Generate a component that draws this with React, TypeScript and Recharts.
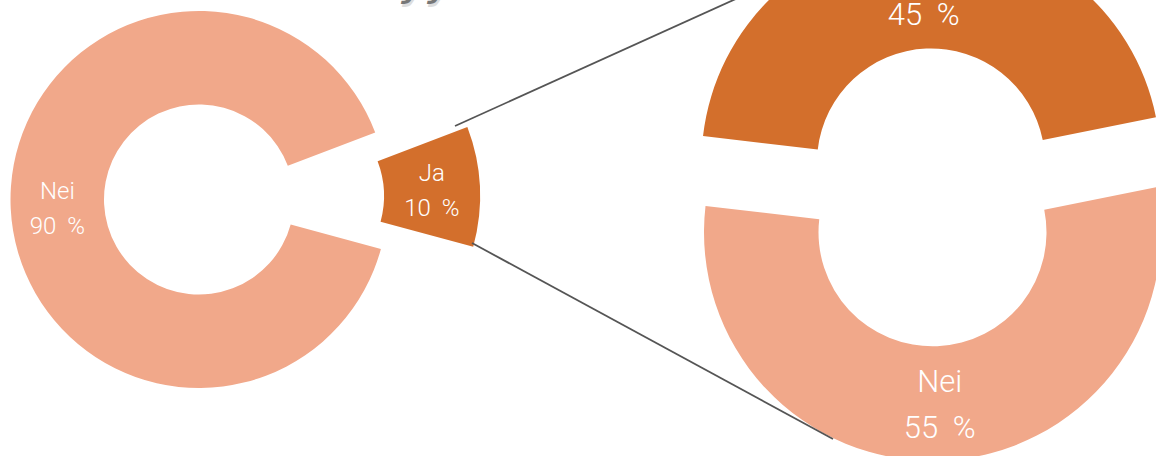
import React from 'react';
import { PieChart, Pie, Cell } from 'recharts';

// ---- data ----
const leftCategories = ['Nei', 'Ja'];
const leftValues = [90, 10];
const rightCategories = ['Ja', 'Nei'];
const rightValues = [45, 55];

const leftData = leftCategories.map((name, i) => ({ name, value: leftValues[i] }));
const rightData = rightCategories.map((name, i) => ({ name, value: rightValues[i] }));

const DARK = '#D36F2C';
const LIGHT = '#F1A88A';
const RAD = Math.PI / 180;
const FONT = 'Roboto, "DejaVu Sans", sans-serif';

const makeLabel = (showIndex: number, fontSize: number, gap: number, shiftY: number, wordSpacing: number) => (props: any) => {
  if (props.index !== showIndex) return <g />;
  const { cx, cy, midAngle, innerRadius, outerRadius } = props;
  const name = props.payload?.name ?? props.name;
  const value = props.payload?.value ?? props.value;
  const r = (innerRadius + outerRadius) / 2;
  const x = cx + r * Math.cos(-midAngle * RAD);
  const y = cy + r * Math.sin(-midAngle * RAD) + shiftY;
  const common = {
    textAnchor: 'middle' as const,
    dominantBaseline: 'central' as const,
    fill: '#fff',
    fontSize,
    fontFamily: FONT,
    fontWeight: 300,
  };
  return (
    <g>
      <text x={x} y={y - gap / 2} {...common}>
        {name}
      </text>
      <text x={x} y={y + gap / 2} {...common} wordSpacing={wordSpacing}>
        {`${value} %`}
      </text>
    </g>
  );
};

export default function App() {
  return (
    <div style={{ position: 'absolute', left: 0, top: 0, width: 1156, height: 456, background: '#fff' }}>
      <PieChart width={1156} height={456} margin={{ top: 0, right: 0, bottom: 0, left: 0 }}>
        {/* left donut: Nei */}
        <Pie
          data={leftData}
          dataKey="value"
          nameKey="name"
          cx={199}
          cy={199.5}
          innerRadius={95}
          outerRadius={188.5}
          startAngle={20.8}
          endAngle={380.8}
          stroke="none"
          isAnimationActive={false}
          labelLine={false}
          label={makeLabel(0, 24, 34.5, 2, 5)}
        >
          <Cell fill={LIGHT} />
          <Cell fill="transparent" />
        </Pie>
        {/* left donut: exploded Ja */}
        <Pie
          data={leftData}
          dataKey="value"
          nameKey="name"
          cx={286}
          cy={196}
          innerRadius={98}
          outerRadius={194}
          startAngle={20.8}
          endAngle={380.8}
          stroke="none"
          isAnimationActive={false}
          labelLine={false}
          label={makeLabel(1, 24, 35, 1.5, 5)}
        >
          <Cell fill="transparent" />
          <Cell fill={DARK} />
        </Pie>
        {/* right donut: Ja (top) */}
        <Pie
          data={rightData}
          dataKey="value"
          nameKey="name"
          cx={931}
          cy={162.5}
          innerRadius={114}
          outerRadius={229.5}
          startAngle={11.4}
          endAngle={371.4}
          stroke="none"
          isAnimationActive={false}
          labelLine={false}
          label={makeLabel(0, 31, 45.5, 1, 7)}
        >
          <Cell fill={DARK} />
          <Cell fill="transparent" />
        </Pie>
        {/* right donut: Nei (bottom) */}
        <Pie
          data={rightData}
          dataKey="value"
          nameKey="name"
          cx={932.5}
          cy={232.3}
          innerRadius={114}
          outerRadius={228.5}
          startAngle={11.4}
          endAngle={371.4}
          stroke="none"
          isAnimationActive={false}
          labelLine={false}
          label={makeLabel(1, 31, 45.5, 1, 7)}
        >
          <Cell fill="transparent" />
          <Cell fill={LIGHT} />
        </Pie>
      </PieChart>
      <svg width={1156} height={456} style={{ position: 'absolute', left: 0, top: 0, pointerEvents: 'none' }}>
        <text x={402} y={-5} fontSize={44} fontStyle="italic" fontFamily='"DejaVu Sans", sans-serif' fill="#ddd" transform="translate(1,3)">
          yy
        </text>
        <text x={402} y={-5} fontSize={44} fontStyle="italic" fontFamily='"DejaVu Sans", sans-serif' fill="#777">
          yy
        </text>
        <line x1={455} y1={126} x2={760} y2={-12} stroke="#555" strokeWidth={1.8} />
        <line x1={472} y1={243} x2={833} y2={439} stroke="#555" strokeWidth={1.8} />
      </svg>
    </div>
  );
}
